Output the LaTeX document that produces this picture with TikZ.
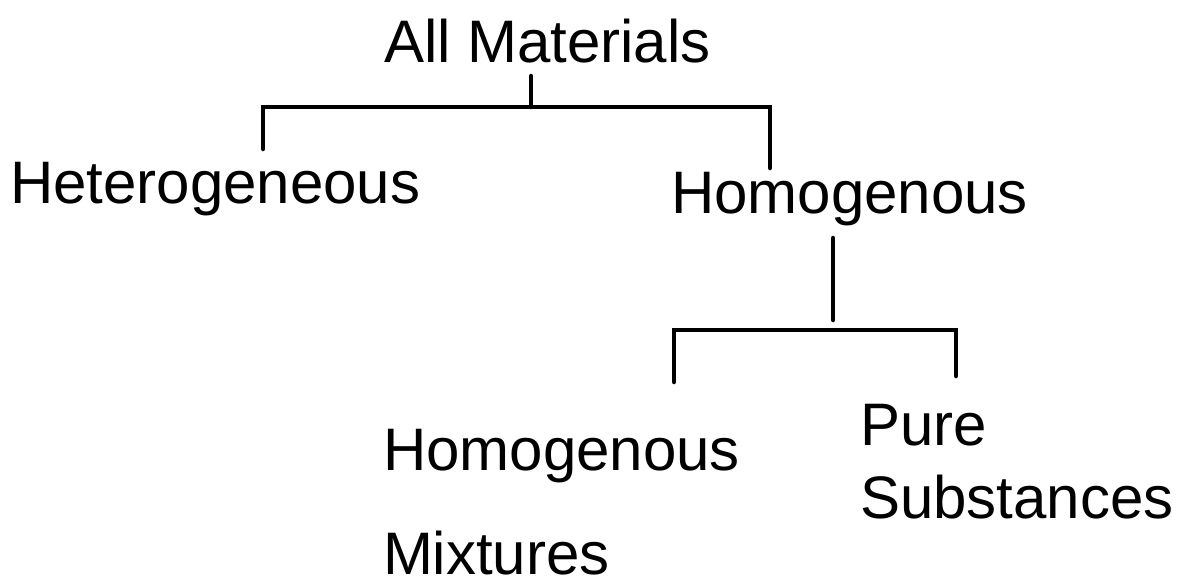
\documentclass[tikz,border=0pt]{standalone}
\usepackage{fontspec}
\setmainfont{Liberation Sans}
\begin{document}
\begin{tikzpicture}[x=1pt,y=-1pt,
  label/.style={anchor=base west,inner sep=0pt,outer sep=0pt,
    font=\fontsize{60}{72}\selectfont},
  bracket/.style={line width=4.5pt,line cap=round,line join=miter}]
\useasboundingbox (0,0) rectangle (1184,581);

% labels
\node[label] (all)   at (384,62)  {All Materials};
\node[label] (het)   at (10,203)  {Heterogeneous};
\node[label] (hom)   at (671,213) {Homogenous};
\node[label] (mix)   at (383,470) {Homogenous};
\node[label] (mix2)  at (383,574) {Mixtures};
\node[label] (pure)  at (860,445) {Pure};
\node[label] (pure2) at (860,518) {Substances};

% first split
\coordinate (s1top) at (531,76);
\coordinate (s1mid) at (531,107);
\coordinate (s1l)   at (263,107);
\coordinate (s1r)   at (770,107);
\coordinate (s1lb)  at (263,149);
\coordinate (s1rb)  at (770,168);
\draw[bracket] (s1top) -- (s1mid);
\draw[bracket] (s1lb) -- (s1l) -- (s1r) -- (s1rb);

% second split
\coordinate (s2top) at (833,238);
\coordinate (s2bot) at (833,320);
\coordinate (s2l)   at (674,330);
\coordinate (s2r)   at (956,330);
\coordinate (s2lb)  at (674,382);
\coordinate (s2rb)  at (956,376);
\draw[bracket] (s2top) -- (s2bot);
\draw[bracket] (s2lb) -- (s2l) -- (s2r) -- (s2rb);
\end{tikzpicture}
\end{document}
